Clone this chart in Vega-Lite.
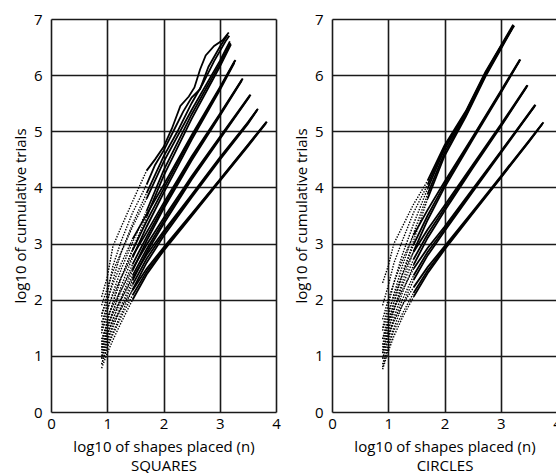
{
 "$schema": "https://vega.github.io/schema/vega-lite/v6.json",
 "padding": {"left": 13, "top": 12, "right": 0, "bottom": 0},
 "spacing": 13,
 "config": {
  "font": "Open Sans",
  "view": {"stroke": null},
  "axis": {"grid": true, "gridColor": "#1a1a1a", "gridWidth": 1.6, "gridOpacity": 1, "domain": false, "ticks": false, "labelFontSize": 15, "titleFontSize": 15, "titleFontWeight": "normal", "labelColor": "#000", "titleColor": "#000"},
  "axisY": {"labelPadding": 9, "titlePadding": 5},
  "axisX": {"labelPadding": 4, "titlePadding": 8, "labelFlush": false, "labelDx": 3, "titleLineHeight": 19}
 },
 "datasets": {
  "d": [
   {"p":"S","r":"s6a","x":0.9,"y":1.15},{"p":"S","r":"s6a","x":1.0,"y":1.4},{"p":"S","r":"s6a","x":1.1,"y":1.6},{"p":"S","r":"s6a","x":1.25,"y":1.85},{"p":"S","r":"s6a","x":1.45,"y":2.17},{"p":"S","r":"s6a","x":1.7,"y":2.55},{"p":"S","r":"s6a","x":2.0,"y":2.93},{"p":"S","r":"s6a","x":2.5,"y":3.53},{"p":"S","r":"s6a","x":3.0,"y":4.14},{"p":"S","r":"s6a","x":3.5,"y":4.76},{"p":"S","r":"s6a","x":3.83,"y":5.17},
   {"p":"S","r":"s6b","x":0.9,"y":0.85},{"p":"S","r":"s6b","x":1.0,"y":1.15},{"p":"S","r":"s6b","x":1.1,"y":1.38},{"p":"S","r":"s6b","x":1.25,"y":1.7},{"p":"S","r":"s6b","x":1.45,"y":2.08},{"p":"S","r":"s6b","x":1.7,"y":2.5},{"p":"S","r":"s6b","x":2.0,"y":2.9},{"p":"S","r":"s6b","x":2.5,"y":3.51},{"p":"S","r":"s6b","x":3.0,"y":4.13},{"p":"S","r":"s6b","x":3.5,"y":4.75},{"p":"S","r":"s6b","x":3.84,"y":5.17},
   {"p":"S","r":"s6c","x":0.9,"y":0.78},{"p":"S","r":"s6c","x":1.0,"y":1.05},{"p":"S","r":"s6c","x":1.1,"y":1.28},{"p":"S","r":"s6c","x":1.25,"y":1.6},{"p":"S","r":"s6c","x":1.45,"y":2.0},{"p":"S","r":"s6c","x":1.7,"y":2.45},{"p":"S","r":"s6c","x":2.0,"y":2.87},{"p":"S","r":"s6c","x":2.5,"y":3.49},{"p":"S","r":"s6c","x":3.0,"y":4.11},{"p":"S","r":"s6c","x":3.5,"y":4.73},{"p":"S","r":"s6c","x":3.82,"y":5.14},

   {"p":"S","r":"s5a","x":0.9,"y":1.3},{"p":"S","r":"s5a","x":1.0,"y":1.55},{"p":"S","r":"s5a","x":1.1,"y":1.75},{"p":"S","r":"s5a","x":1.25,"y":2.02},{"p":"S","r":"s5a","x":1.45,"y":2.38},{"p":"S","r":"s5a","x":1.7,"y":2.8},{"p":"S","r":"s5a","x":2.0,"y":3.22},{"p":"S","r":"s5a","x":2.5,"y":3.87},{"p":"S","r":"s5a","x":3.0,"y":4.53},{"p":"S","r":"s5a","x":3.5,"y":5.16},{"p":"S","r":"s5a","x":3.67,"y":5.39},
   {"p":"S","r":"s5b","x":0.9,"y":0.95},{"p":"S","r":"s5b","x":1.0,"y":1.3},{"p":"S","r":"s5b","x":1.1,"y":1.52},{"p":"S","r":"s5b","x":1.25,"y":1.85},{"p":"S","r":"s5b","x":1.45,"y":2.27},{"p":"S","r":"s5b","x":1.7,"y":2.73},{"p":"S","r":"s5b","x":2.0,"y":3.18},{"p":"S","r":"s5b","x":2.5,"y":3.85},{"p":"S","r":"s5b","x":3.0,"y":4.51},{"p":"S","r":"s5b","x":3.5,"y":5.15},{"p":"S","r":"s5b","x":3.68,"y":5.4},
   {"p":"S","r":"s5c","x":0.9,"y":0.85},{"p":"S","r":"s5c","x":1.0,"y":1.18},{"p":"S","r":"s5c","x":1.1,"y":1.42},{"p":"S","r":"s5c","x":1.25,"y":1.75},{"p":"S","r":"s5c","x":1.45,"y":2.18},{"p":"S","r":"s5c","x":1.7,"y":2.66},{"p":"S","r":"s5c","x":2.0,"y":3.13},{"p":"S","r":"s5c","x":2.5,"y":3.82},{"p":"S","r":"s5c","x":3.0,"y":4.49},{"p":"S","r":"s5c","x":3.5,"y":5.13},{"p":"S","r":"s5c","x":3.66,"y":5.37},

   {"p":"S","r":"s4a","x":0.9,"y":1.45},{"p":"S","r":"s4a","x":1.0,"y":1.7},{"p":"S","r":"s4a","x":1.1,"y":1.9},{"p":"S","r":"s4a","x":1.25,"y":2.18},{"p":"S","r":"s4a","x":1.45,"y":2.55},{"p":"S","r":"s4a","x":1.7,"y":2.98},{"p":"S","r":"s4a","x":2.0,"y":3.45},{"p":"S","r":"s4a","x":2.5,"y":4.2},{"p":"S","r":"s4a","x":3.0,"y":4.9},{"p":"S","r":"s4a","x":3.54,"y":5.65},
   {"p":"S","r":"s4b","x":0.9,"y":1.05},{"p":"S","r":"s4b","x":1.0,"y":1.4},{"p":"S","r":"s4b","x":1.1,"y":1.65},{"p":"S","r":"s4b","x":1.25,"y":2.0},{"p":"S","r":"s4b","x":1.45,"y":2.43},{"p":"S","r":"s4b","x":1.7,"y":2.9},{"p":"S","r":"s4b","x":2.0,"y":3.4},{"p":"S","r":"s4b","x":2.5,"y":4.17},{"p":"S","r":"s4b","x":3.0,"y":4.88},{"p":"S","r":"s4b","x":3.55,"y":5.65},
   {"p":"S","r":"s4c","x":0.9,"y":0.95},{"p":"S","r":"s4c","x":1.0,"y":1.25},{"p":"S","r":"s4c","x":1.1,"y":1.52},{"p":"S","r":"s4c","x":1.25,"y":1.9},{"p":"S","r":"s4c","x":1.45,"y":2.34},{"p":"S","r":"s4c","x":1.7,"y":2.84},{"p":"S","r":"s4c","x":2.0,"y":3.35},{"p":"S","r":"s4c","x":2.5,"y":4.14},{"p":"S","r":"s4c","x":3.0,"y":4.86},{"p":"S","r":"s4c","x":3.53,"y":5.62},

   {"p":"S","r":"s3a","x":0.9,"y":1.6},{"p":"S","r":"s3a","x":1.0,"y":1.85},{"p":"S","r":"s3a","x":1.1,"y":2.08},{"p":"S","r":"s3a","x":1.25,"y":2.4},{"p":"S","r":"s3a","x":1.45,"y":2.78},{"p":"S","r":"s3a","x":1.7,"y":3.2},{"p":"S","r":"s3a","x":2.0,"y":3.72},{"p":"S","r":"s3a","x":2.5,"y":4.55},{"p":"S","r":"s3a","x":3.0,"y":5.31},{"p":"S","r":"s3a","x":3.4,"y":5.93},
   {"p":"S","r":"s3b","x":0.9,"y":1.15},{"p":"S","r":"s3b","x":1.0,"y":1.5},{"p":"S","r":"s3b","x":1.1,"y":1.8},{"p":"S","r":"s3b","x":1.25,"y":2.17},{"p":"S","r":"s3b","x":1.45,"y":2.63},{"p":"S","r":"s3b","x":1.7,"y":3.12},{"p":"S","r":"s3b","x":2.0,"y":3.67},{"p":"S","r":"s3b","x":2.5,"y":4.52},{"p":"S","r":"s3b","x":3.0,"y":5.29},{"p":"S","r":"s3b","x":3.41,"y":5.94},
   {"p":"S","r":"s3c","x":0.9,"y":1.0},{"p":"S","r":"s3c","x":1.0,"y":1.35},{"p":"S","r":"s3c","x":1.1,"y":1.65},{"p":"S","r":"s3c","x":1.25,"y":2.05},{"p":"S","r":"s3c","x":1.45,"y":2.52},{"p":"S","r":"s3c","x":1.7,"y":3.05},{"p":"S","r":"s3c","x":2.0,"y":3.62},{"p":"S","r":"s3c","x":2.5,"y":4.48},{"p":"S","r":"s3c","x":3.0,"y":5.27},{"p":"S","r":"s3c","x":3.39,"y":5.9},

   {"p":"S","r":"s2a","x":0.9,"y":1.75},{"p":"S","r":"s2a","x":1.0,"y":2.0},{"p":"S","r":"s2a","x":1.1,"y":2.28},{"p":"S","r":"s2a","x":1.25,"y":2.65},{"p":"S","r":"s2a","x":1.45,"y":3.08},{"p":"S","r":"s2a","x":1.7,"y":3.52},{"p":"S","r":"s2a","x":2.0,"y":4.04},{"p":"S","r":"s2a","x":2.5,"y":4.93},{"p":"S","r":"s2a","x":3.0,"y":5.78},{"p":"S","r":"s2a","x":3.27,"y":6.26},
   {"p":"S","r":"s2b","x":0.9,"y":1.25},{"p":"S","r":"s2b","x":1.0,"y":1.62},{"p":"S","r":"s2b","x":1.1,"y":1.95},{"p":"S","r":"s2b","x":1.25,"y":2.4},{"p":"S","r":"s2b","x":1.45,"y":2.88},{"p":"S","r":"s2b","x":1.7,"y":3.4},{"p":"S","r":"s2b","x":2.0,"y":3.97},{"p":"S","r":"s2b","x":2.5,"y":4.9},{"p":"S","r":"s2b","x":3.0,"y":5.76},{"p":"S","r":"s2b","x":3.28,"y":6.27},
   {"p":"S","r":"s2c","x":0.9,"y":1.1},{"p":"S","r":"s2c","x":1.0,"y":1.45},{"p":"S","r":"s2c","x":1.1,"y":1.78},{"p":"S","r":"s2c","x":1.25,"y":2.25},{"p":"S","r":"s2c","x":1.45,"y":2.75},{"p":"S","r":"s2c","x":1.7,"y":3.3},{"p":"S","r":"s2c","x":2.0,"y":3.9},{"p":"S","r":"s2c","x":2.5,"y":4.85},{"p":"S","r":"s2c","x":3.0,"y":5.73},{"p":"S","r":"s2c","x":3.26,"y":6.22},

   {"p":"S","r":"s1pa","x":0.9,"y":1.9},{"p":"S","r":"s1pa","x":1.0,"y":2.2},{"p":"S","r":"s1pa","x":1.1,"y":2.5},{"p":"S","r":"s1pa","x":1.25,"y":2.85},{"p":"S","r":"s1pa","x":1.45,"y":3.3},{"p":"S","r":"s1pa","x":1.7,"y":3.8},{"p":"S","r":"s1pa","x":2.0,"y":4.45},{"p":"S","r":"s1pa","x":2.5,"y":5.38},{"p":"S","r":"s1pa","x":3.0,"y":6.25},{"p":"S","r":"s1pa","x":3.18,"y":6.6},
   {"p":"S","r":"s1pb","x":0.9,"y":1.4},{"p":"S","r":"s1pb","x":1.0,"y":1.8},{"p":"S","r":"s1pb","x":1.1,"y":2.12},{"p":"S","r":"s1pb","x":1.25,"y":2.55},{"p":"S","r":"s1pb","x":1.45,"y":3.02},{"p":"S","r":"s1pb","x":1.7,"y":3.58},{"p":"S","r":"s1pb","x":2.0,"y":4.3},{"p":"S","r":"s1pb","x":2.5,"y":5.3},{"p":"S","r":"s1pb","x":3.0,"y":6.2},{"p":"S","r":"s1pb","x":3.19,"y":6.57},
   {"p":"S","r":"s1pc","x":0.9,"y":1.2},{"p":"S","r":"s1pc","x":1.0,"y":1.6},{"p":"S","r":"s1pc","x":1.1,"y":1.95},{"p":"S","r":"s1pc","x":1.25,"y":2.4},{"p":"S","r":"s1pc","x":1.45,"y":2.9},{"p":"S","r":"s1pc","x":1.7,"y":3.48},{"p":"S","r":"s1pc","x":2.0,"y":4.2},{"p":"S","r":"s1pc","x":2.5,"y":5.22},{"p":"S","r":"s1pc","x":3.0,"y":6.15},{"p":"S","r":"s1pc","x":3.2,"y":6.55},

   {"p":"S","r":"s1a","x":0.9,"y":2.05},{"p":"S","r":"s1a","x":1.0,"y":2.4},{"p":"S","r":"s1a","x":1.1,"y":2.95},{"p":"S","r":"s1a","x":1.25,"y":3.3},{"p":"S","r":"s1a","x":1.45,"y":3.75},{"p":"S","r":"s1a","x":1.7,"y":4.3},{"p":"S","r":"s1a","x":1.85,"y":4.5},{"p":"S","r":"s1a","x":2.0,"y":4.72},{"p":"S","r":"s1a","x":2.15,"y":5.05},{"p":"S","r":"s1a","x":2.3,"y":5.45},{"p":"S","r":"s1a","x":2.45,"y":5.62},{"p":"S","r":"s1a","x":2.55,"y":5.78},{"p":"S","r":"s1a","x":2.65,"y":6.1},{"p":"S","r":"s1a","x":2.75,"y":6.35},{"p":"S","r":"s1a","x":2.9,"y":6.52},{"p":"S","r":"s1a","x":3.05,"y":6.62},{"p":"S","r":"s1a","x":3.16,"y":6.76},
   {"p":"S","r":"s1b","x":0.9,"y":1.7},{"p":"S","r":"s1b","x":1.0,"y":2.1},{"p":"S","r":"s1b","x":1.1,"y":2.6},{"p":"S","r":"s1b","x":1.25,"y":3.05},{"p":"S","r":"s1b","x":1.45,"y":3.55},{"p":"S","r":"s1b","x":1.7,"y":4.05},{"p":"S","r":"s1b","x":1.85,"y":4.4},{"p":"S","r":"s1b","x":2.0,"y":4.65},{"p":"S","r":"s1b","x":2.2,"y":5.05},{"p":"S","r":"s1b","x":2.35,"y":5.35},{"p":"S","r":"s1b","x":2.5,"y":5.6},{"p":"S","r":"s1b","x":2.65,"y":5.75},{"p":"S","r":"s1b","x":2.8,"y":6.15},{"p":"S","r":"s1b","x":3.0,"y":6.5},{"p":"S","r":"s1b","x":3.14,"y":6.72},
   {"p":"S","r":"s1c","x":0.9,"y":1.5},{"p":"S","r":"s1c","x":1.0,"y":1.95},{"p":"S","r":"s1c","x":1.1,"y":2.35},{"p":"S","r":"s1c","x":1.25,"y":2.85},{"p":"S","r":"s1c","x":1.45,"y":3.35},{"p":"S","r":"s1c","x":1.7,"y":3.9},{"p":"S","r":"s1c","x":2.0,"y":4.55},{"p":"S","r":"s1c","x":2.25,"y":5.0},{"p":"S","r":"s1c","x":2.5,"y":5.5},{"p":"S","r":"s1c","x":2.7,"y":5.85},{"p":"S","r":"s1c","x":2.9,"y":6.25},{"p":"S","r":"s1c","x":3.1,"y":6.6},{"p":"S","r":"s1c","x":3.17,"y":6.7},

   {"p":"C","r":"c5a","x":0.9,"y":1.1},{"p":"C","r":"c5a","x":1.0,"y":1.4},{"p":"C","r":"c5a","x":1.1,"y":1.62},{"p":"C","r":"c5a","x":1.25,"y":1.9},{"p":"C","r":"c5a","x":1.45,"y":2.22},{"p":"C","r":"c5a","x":1.7,"y":2.58},{"p":"C","r":"c5a","x":2.0,"y":2.95},{"p":"C","r":"c5a","x":2.5,"y":3.57},{"p":"C","r":"c5a","x":3.0,"y":4.2},{"p":"C","r":"c5a","x":3.5,"y":4.83},{"p":"C","r":"c5a","x":3.75,"y":5.15},
   {"p":"C","r":"c5b","x":0.9,"y":0.8},{"p":"C","r":"c5b","x":1.0,"y":1.15},{"p":"C","r":"c5b","x":1.1,"y":1.45},{"p":"C","r":"c5b","x":1.25,"y":1.75},{"p":"C","r":"c5b","x":1.45,"y":2.12},{"p":"C","r":"c5b","x":1.7,"y":2.52},{"p":"C","r":"c5b","x":2.0,"y":2.92},{"p":"C","r":"c5b","x":2.5,"y":3.55},{"p":"C","r":"c5b","x":3.0,"y":4.18},{"p":"C","r":"c5b","x":3.5,"y":4.82},{"p":"C","r":"c5b","x":3.76,"y":5.16},
   {"p":"C","r":"c5c","x":0.9,"y":0.76},{"p":"C","r":"c5c","x":1.0,"y":1.08},{"p":"C","r":"c5c","x":1.1,"y":1.35},{"p":"C","r":"c5c","x":1.25,"y":1.68},{"p":"C","r":"c5c","x":1.45,"y":2.05},{"p":"C","r":"c5c","x":1.7,"y":2.47},{"p":"C","r":"c5c","x":2.0,"y":2.89},{"p":"C","r":"c5c","x":2.5,"y":3.53},{"p":"C","r":"c5c","x":3.0,"y":4.17},{"p":"C","r":"c5c","x":3.5,"y":4.81},{"p":"C","r":"c5c","x":3.74,"y":5.13},

   {"p":"C","r":"c4a","x":0.9,"y":1.3},{"p":"C","r":"c4a","x":1.0,"y":1.6},{"p":"C","r":"c4a","x":1.1,"y":1.85},{"p":"C","r":"c4a","x":1.25,"y":2.17},{"p":"C","r":"c4a","x":1.45,"y":2.55},{"p":"C","r":"c4a","x":1.7,"y":2.92},{"p":"C","r":"c4a","x":2.0,"y":3.3},{"p":"C","r":"c4a","x":2.5,"y":3.97},{"p":"C","r":"c4a","x":3.0,"y":4.64},{"p":"C","r":"c4a","x":3.61,"y":5.47},
   {"p":"C","r":"c4b","x":0.9,"y":0.95},{"p":"C","r":"c4b","x":1.0,"y":1.3},{"p":"C","r":"c4b","x":1.1,"y":1.62},{"p":"C","r":"c4b","x":1.25,"y":2.0},{"p":"C","r":"c4b","x":1.45,"y":2.43},{"p":"C","r":"c4b","x":1.7,"y":2.85},{"p":"C","r":"c4b","x":2.0,"y":3.26},{"p":"C","r":"c4b","x":2.5,"y":3.94},{"p":"C","r":"c4b","x":3.0,"y":4.63},{"p":"C","r":"c4b","x":3.62,"y":5.47},
   {"p":"C","r":"c4c","x":0.9,"y":0.85},{"p":"C","r":"c4c","x":1.0,"y":1.2},{"p":"C","r":"c4c","x":1.1,"y":1.5},{"p":"C","r":"c4c","x":1.25,"y":1.9},{"p":"C","r":"c4c","x":1.45,"y":2.35},{"p":"C","r":"c4c","x":1.7,"y":2.79},{"p":"C","r":"c4c","x":2.0,"y":3.22},{"p":"C","r":"c4c","x":2.5,"y":3.92},{"p":"C","r":"c4c","x":3.0,"y":4.61},{"p":"C","r":"c4c","x":3.6,"y":5.44},

   {"p":"C","r":"c3a","x":0.9,"y":1.45},{"p":"C","r":"c3a","x":1.0,"y":1.78},{"p":"C","r":"c3a","x":1.1,"y":2.07},{"p":"C","r":"c3a","x":1.25,"y":2.45},{"p":"C","r":"c3a","x":1.45,"y":2.85},{"p":"C","r":"c3a","x":1.7,"y":3.25},{"p":"C","r":"c3a","x":2.0,"y":3.68},{"p":"C","r":"c3a","x":2.5,"y":4.4},{"p":"C","r":"c3a","x":3.0,"y":5.12},{"p":"C","r":"c3a","x":3.47,"y":5.82},
   {"p":"C","r":"c3b","x":0.9,"y":1.05},{"p":"C","r":"c3b","x":1.0,"y":1.45},{"p":"C","r":"c3b","x":1.1,"y":1.8},{"p":"C","r":"c3b","x":1.25,"y":2.25},{"p":"C","r":"c3b","x":1.45,"y":2.72},{"p":"C","r":"c3b","x":1.7,"y":3.17},{"p":"C","r":"c3b","x":2.0,"y":3.63},{"p":"C","r":"c3b","x":2.5,"y":4.37},{"p":"C","r":"c3b","x":3.0,"y":5.1},{"p":"C","r":"c3b","x":3.48,"y":5.82},
   {"p":"C","r":"c3c","x":0.9,"y":0.95},{"p":"C","r":"c3c","x":1.0,"y":1.32},{"p":"C","r":"c3c","x":1.1,"y":1.68},{"p":"C","r":"c3c","x":1.25,"y":2.12},{"p":"C","r":"c3c","x":1.45,"y":2.62},{"p":"C","r":"c3c","x":1.7,"y":3.1},{"p":"C","r":"c3c","x":2.0,"y":3.58},{"p":"C","r":"c3c","x":2.5,"y":4.34},{"p":"C","r":"c3c","x":3.0,"y":5.08},{"p":"C","r":"c3c","x":3.46,"y":5.79},

   {"p":"C","r":"c2a","x":0.9,"y":1.65},{"p":"C","r":"c2a","x":1.0,"y":2.0},{"p":"C","r":"c2a","x":1.1,"y":2.3},{"p":"C","r":"c2a","x":1.25,"y":2.7},{"p":"C","r":"c2a","x":1.45,"y":3.15},{"p":"C","r":"c2a","x":1.7,"y":3.6},{"p":"C","r":"c2a","x":2.0,"y":4.1},{"p":"C","r":"c2a","x":2.5,"y":4.9},{"p":"C","r":"c2a","x":3.0,"y":5.72},{"p":"C","r":"c2a","x":3.34,"y":6.28},
   {"p":"C","r":"c2b","x":0.9,"y":1.2},{"p":"C","r":"c2b","x":1.0,"y":1.6},{"p":"C","r":"c2b","x":1.1,"y":1.95},{"p":"C","r":"c2b","x":1.25,"y":2.45},{"p":"C","r":"c2b","x":1.45,"y":2.98},{"p":"C","r":"c2b","x":1.7,"y":3.5},{"p":"C","r":"c2b","x":2.0,"y":4.05},{"p":"C","r":"c2b","x":2.5,"y":4.88},{"p":"C","r":"c2b","x":3.0,"y":5.7},{"p":"C","r":"c2b","x":3.35,"y":6.28},
   {"p":"C","r":"c2c","x":0.9,"y":1.05},{"p":"C","r":"c2c","x":1.0,"y":1.45},{"p":"C","r":"c2c","x":1.1,"y":1.82},{"p":"C","r":"c2c","x":1.25,"y":2.32},{"p":"C","r":"c2c","x":1.45,"y":2.86},{"p":"C","r":"c2c","x":1.7,"y":3.42},{"p":"C","r":"c2c","x":2.0,"y":4.0},{"p":"C","r":"c2c","x":2.5,"y":4.85},{"p":"C","r":"c2c","x":3.0,"y":5.68},{"p":"C","r":"c2c","x":3.33,"y":6.25},

   {"p":"C","r":"c1a","x":0.9,"y":2.3},{"p":"C","r":"c1a","x":1.0,"y":2.6},{"p":"C","r":"c1a","x":1.1,"y":3.0},{"p":"C","r":"c1a","x":1.25,"y":3.3},{"p":"C","r":"c1a","x":1.45,"y":3.7},{"p":"C","r":"c1a","x":1.7,"y":4.12},{"p":"C","r":"c1a","x":2.0,"y":4.75},{"p":"C","r":"c1a","x":2.38,"y":5.36},{"p":"C","r":"c1a","x":2.73,"y":6.06},{"p":"C","r":"c1a","x":3.0,"y":6.52},{"p":"C","r":"c1a","x":3.22,"y":6.9},
   {"p":"C","r":"c1b","x":0.9,"y":1.9},{"p":"C","r":"c1b","x":1.0,"y":2.25},{"p":"C","r":"c1b","x":1.1,"y":2.65},{"p":"C","r":"c1b","x":1.25,"y":3.05},{"p":"C","r":"c1b","x":1.45,"y":3.55},{"p":"C","r":"c1b","x":1.7,"y":4.05},{"p":"C","r":"c1b","x":2.0,"y":4.72},{"p":"C","r":"c1b","x":2.38,"y":5.34},{"p":"C","r":"c1b","x":2.73,"y":6.04},{"p":"C","r":"c1b","x":3.0,"y":6.51},{"p":"C","r":"c1b","x":3.24,"y":6.88},
   {"p":"C","r":"c1c","x":0.9,"y":1.5},{"p":"C","r":"c1c","x":1.0,"y":1.9},{"p":"C","r":"c1c","x":1.1,"y":2.3},{"p":"C","r":"c1c","x":1.25,"y":2.8},{"p":"C","r":"c1c","x":1.45,"y":3.35},{"p":"C","r":"c1c","x":1.7,"y":3.98},{"p":"C","r":"c1c","x":2.0,"y":4.68},{"p":"C","r":"c1c","x":2.38,"y":5.32},{"p":"C","r":"c1c","x":2.73,"y":6.03},{"p":"C","r":"c1c","x":3.0,"y":6.5},{"p":"C","r":"c1c","x":3.23,"y":6.89},
   {"p":"C","r":"c1d","x":0.9,"y":1.3},{"p":"C","r":"c1d","x":1.0,"y":1.7},{"p":"C","r":"c1d","x":1.1,"y":2.1},{"p":"C","r":"c1d","x":1.25,"y":2.6},{"p":"C","r":"c1d","x":1.45,"y":3.18},{"p":"C","r":"c1d","x":1.7,"y":3.88},{"p":"C","r":"c1d","x":2.0,"y":4.62},{"p":"C","r":"c1d","x":2.38,"y":5.29},{"p":"C","r":"c1d","x":2.73,"y":6.0},{"p":"C","r":"c1d","x":3.0,"y":6.48},{"p":"C","r":"c1d","x":3.21,"y":6.85},
   {"p":"C","r":"c1e","x":0.9,"y":1.15},{"p":"C","r":"c1e","x":1.0,"y":1.55},{"p":"C","r":"c1e","x":1.1,"y":1.95},{"p":"C","r":"c1e","x":1.25,"y":2.45},{"p":"C","r":"c1e","x":1.45,"y":3.05},{"p":"C","r":"c1e","x":1.7,"y":3.8},{"p":"C","r":"c1e","x":2.0,"y":4.56},{"p":"C","r":"c1e","x":2.38,"y":5.26},{"p":"C","r":"c1e","x":2.73,"y":5.98},{"p":"C","r":"c1e","x":3.0,"y":6.46},{"p":"C","r":"c1e","x":3.2,"y":6.82}
  ]
 },
 "hconcat": [
  {
   "width": 225, "height": 393,
   "data": {"name": "d"},
   "transform": [{"filter": "datum.p === 'S'"}],
   "encoding": {
    "x": {"field": "x", "type": "quantitative", "scale": {"domain": [0, 4], "nice": false, "zero": false}, "axis": {"title": ["log10 of shapes placed (n)", "SQUARES"], "values": [0, 1, 2, 3, 4]}},
    "y": {"field": "y", "type": "quantitative", "scale": {"domain": [0, 7], "nice": false}, "axis": {"title": "log10 of cumulative trials", "values": [0, 1, 2, 3, 4, 5, 6, 7]}},
    "detail": {"field": "r", "type": "nominal"}
   },
   "layer": [
    {"transform": [{"filter": "datum.x <= (indexof(datum.r, '1') >= 0 ? 1.7 : 1.45)"}], "mark": {"type": "line", "color": "#000", "strokeWidth": 1.4, "strokeDash": [1.4, 1.4]}},
    {"transform": [{"filter": "datum.x >= (indexof(datum.r, '1') >= 0 ? 1.7 : 1.45)"}], "mark": {"type": "line", "color": "#000", "strokeWidth": 1.8}}
   ]
  },
  {
   "width": 225, "height": 393,
   "data": {"name": "d"},
   "transform": [{"filter": "datum.p === 'C'"}],
   "encoding": {
    "x": {"field": "x", "type": "quantitative", "scale": {"domain": [0, 4], "nice": false, "zero": false}, "axis": {"title": ["log10 of shapes placed (n)", "CIRCLES"], "values": [0, 1, 2, 3, 4]}},
    "y": {"field": "y", "type": "quantitative", "scale": {"domain": [0, 7], "nice": false}, "axis": {"title": "log10 of cumulative trials", "values": [0, 1, 2, 3, 4, 5, 6, 7]}},
    "detail": {"field": "r", "type": "nominal"}
   },
   "layer": [
    {"transform": [{"filter": "datum.x <= (indexof(datum.r, '1') >= 0 ? 1.7 : 1.45)"}], "mark": {"type": "line", "color": "#000", "strokeWidth": 1.4, "strokeDash": [1.4, 1.4]}},
    {"transform": [{"filter": "datum.x >= (indexof(datum.r, '1') >= 0 ? 1.7 : 1.45)"}], "mark": {"type": "line", "color": "#000", "strokeWidth": 1.8}}
   ]
  }
 ]
}
